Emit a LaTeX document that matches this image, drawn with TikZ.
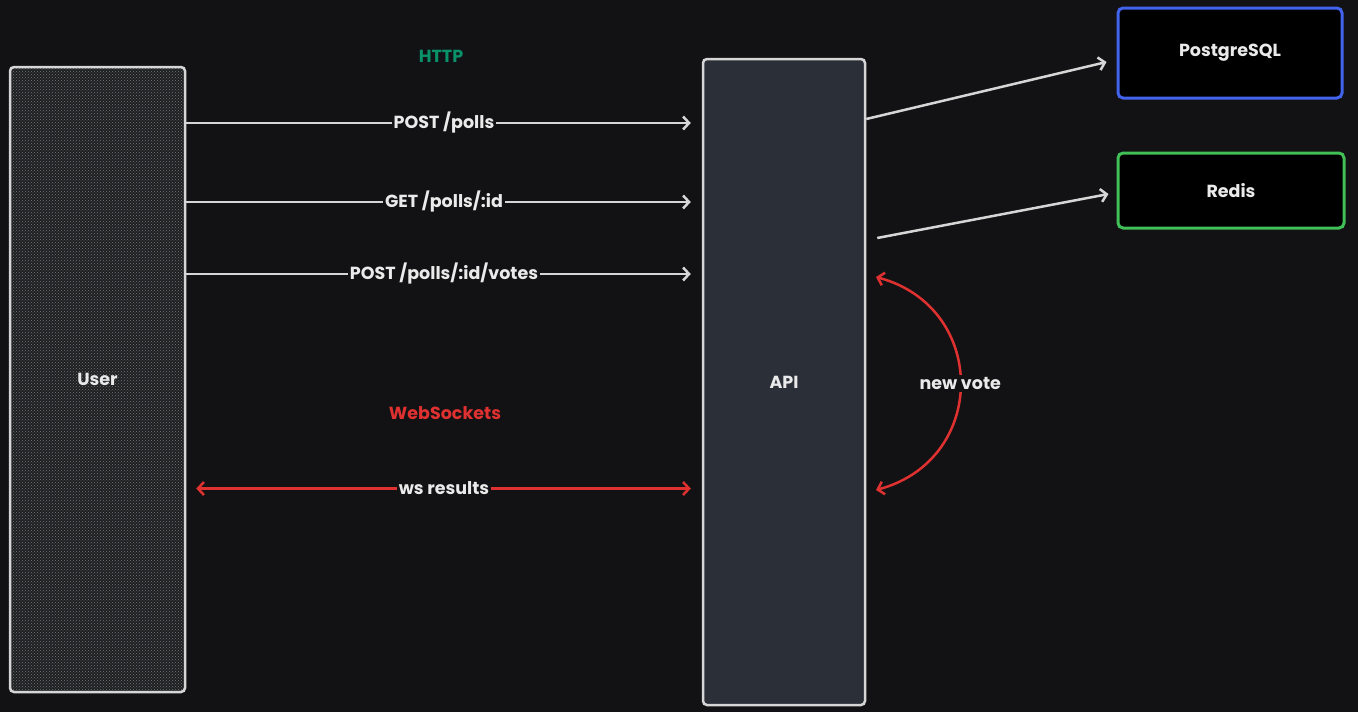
\documentclass[tikz,border=0pt]{standalone}
\usepackage{fontspec}
\setmainfont{Poppins}
\usetikzlibrary{arrows.meta,patterns,positioning}
\definecolor{bgdark}{HTML}{121214}
\definecolor{linegray}{HTML}{D6D6D6}
\definecolor{txtgray}{HTML}{EAEAEA}
\definecolor{userfill}{HTML}{1E1F21}
\definecolor{dotgray}{HTML}{74777A}
\definecolor{apifill}{HTML}{2B2F38}
\definecolor{pgblue}{HTML}{4263EB}
\definecolor{redisgreen}{HTML}{40C057}
\definecolor{httpgreen}{HTML}{099268}
\definecolor{wsred}{HTML}{E03131}
\begin{document}
\begin{tikzpicture}[x=1pt, y=1pt,
            every node/.style={font=\fontsize{17.5}{21}\selectfont\bfseries, text=txtgray},
            box/.style={draw=linegray, line width=2.5pt, rounded corners=4pt, inner sep=0pt},
            store/.style={box, fill=black, line width=3pt, rounded corners=5pt},
            call/.style={draw=linegray, line width=2.5pt, -{Straight Barb[length=6pt,width=13pt]}},
            wsline/.style={draw=wsred, line width=2.5pt, {Straight Barb[length=6pt,width=13pt]}-{Straight Barb[length=6pt,width=13pt]}},
            tag/.style={fill=bgdark, inner sep=2pt}
            ]
            \fill[bgdark] (0,0) rectangle (1358,-712);

            \node[box, preaction={fill=userfill}, pattern=crosshatch dots, pattern color=dotgray,
                  minimum width=175pt, minimum height=625pt] (user) at (97.5,-379.5) {User};
            \node[box, fill=apifill, minimum width=162pt, minimum height=646pt] (api) at (784,-382) {API};
            \node[store, draw=pgblue, minimum width=224pt, minimum height=90pt] (pg) at (1230,-53) {PostgreSQL};
            \node[store, draw=redisgreen, minimum width=226pt, minimum height=75pt] (redis) at (1231,-190.5) {Redis};

            \node[text=httpgreen] (http) at (441,-56) {HTTP};
            \node[text=wsred] (ws) at (445,-413) {WebSockets};

            \foreach \y/\txt in {123/{POST /polls}, 202/{GET /polls/:id}, 274/{POST /polls/:id/votes}}{
                \draw[call, shorten >=11pt] (user.east |- 0,-\y) -- node[tag]{\txt} (api.west |- 0,-\y);
            }

            \draw[wsline, shorten <=10pt, shorten >=11pt] (user.east |- 0,-488.5) -- node[tag]{ws results} (api.west |- 0,-488.5);

            \draw[call] (api.east |- 0,-119) -- ([xshift=-10pt]pg.west |- 0,-62);
            \draw[call] ([xshift=11pt]api.east |- 0,-238) -- ([xshift=-8pt]redis.west |- 0,-194);

            \coordinate (nvtop) at (876,-277);
            \coordinate (nvbot) at (876,-490);
            \draw[wsline] (nvtop) to[out=-15, in=15, looseness=1.4] node[tag]{new vote} (nvbot);
        \end{tikzpicture}
\end{document}
